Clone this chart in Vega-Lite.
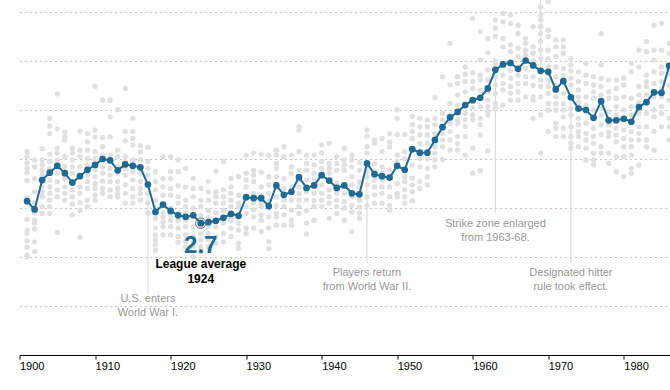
{
  "$schema": "https://vega.github.io/schema/vega-lite/v6.json",
  "width": 650.5,
  "height": 355,
  "autosize": "none",
  "padding": {"left": 19.5, "top": 0, "right": 0, "bottom": 35},
  "background": "white",
  "config": {"view": {"stroke": null}, "font": "Liberation Sans"},
  "datasets": {
    "teams": [
      {"yr":1901,"v":[4.15,4.05,3.92,3.81,3.72,3.56,3.2,2.77,2.55,2.48,2.33,2.2,2.04,2.0]},
      {"yr":1902,"v":[3.98,3.84,3.6,3.33,3.1,2.9,2.75,2.69,2.57,2.31,2.11]},
      {"yr":1903,"v":[4.21,3.98,3.88,3.77,3.67,3.57,3.43,3.33,3.23,3.03,2.89]},
      {"yr":1904,"v":[4.83,4.67,4.52,4.1,3.95,3.81,3.72,3.57,3.43,3.3,3.16,3.03,2.89]},
      {"yr":1905,"v":[5.33,4.61,4.22,4.12,3.98,3.86,3.71,3.54,3.37,3.23,2.5]},
      {"yr":1906,"v":[4.55,4.45,4.39,4.05,3.85,3.74,3.6,3.43,3.3,3.16]},
      {"yr":1907,"v":[4.22,4.12,3.98,3.84,3.71,3.52,3.37,3.23,3.08,2.86]},
      {"yr":1908,"v":[4.57,4.18,4.05,3.84,3.64,3.43,3.3,3.11,2.95,2.4]},
      {"yr":1909,"v":[4.52,4.35,4.18,4.01,3.88,3.67,3.54,3.4,3.16,3.03]},
      {"yr":1910,"v":[5.48,4.59,4.45,4.15,4.01,3.77,3.64,3.5,3.4,3.26,3.16]},
      {"yr":1911,"v":[5.2,4.44,4.25,4.08,4.0,3.84,3.71,3.55,3.4,3.3]},
      {"yr":1912,"v":[5.2,4.86,4.45,4.08,3.98,3.81,3.67,3.54,3.37,3.23]},
      {"yr":1913,"v":[5.01,4.18,4.05,3.84,3.71,3.54,3.4,3.3,3.23]},
      {"yr":1914,"v":[5.44,4.56,4.37,4.05,3.95,3.8,3.67,3.47,3.3,3.1]},
      {"yr":1915,"v":[4.83,4.56,4.42,4.29,3.98,3.86,3.74,3.57,3.4,3.23,3.1]},
      {"yr":1916,"v":[4.27,4.15,3.98,3.83,3.71,3.54,3.4,3.3,3.16]},
      {"yr":1917,"v":[4.24,3.95,3.81,3.67,3.48,3.3,3.1,2.9]},
      {"yr":1918,"v":[3.74,3.54,3.37,3.16,3.0,2.79,2.59,2.45,2.35,2.25,2.14]},
      {"yr":1919,"v":[4.05,3.6,3.43,3.26,3.07,2.9,2.82,2.72,2.62,2.45]},
      {"yr":1920,"v":[4.05,3.74,3.6,3.4,3.26,3.0,2.85,2.75,2.62,2.45]},
      {"yr":1921,"v":[3.98,3.74,3.45,3.23,3.1,2.9,2.75,2.59,2.42,2.3]},
      {"yr":1922,"v":[3.81,3.43,3.16,3.03,2.9,2.75,2.62,2.45,2.31,2.2]},
      {"yr":1923,"v":[3.6,3.4,3.23,3.0,2.85,2.62,2.42,2.31,2.21,2.01]},
      {"yr":1924,"v":[3.4,3.16,3.03,2.85,2.75,2.62,2.48,2.35,2.21,2.1]},
      {"yr":1925,"v":[3.54,3.33,3.16,2.95,2.8,2.62,2.48,2.35,2.21]},
      {"yr":1926,"v":[3.75,3.33,3.23,3.1,2.9,2.75,2.62,2.42,2.28]},
      {"yr":1927,"v":[3.95,3.37,3.23,3.1,2.95,2.8,2.69,2.48,2.31]},
      {"yr":1928,"v":[3.6,3.43,3.3,3.16,3.03,2.88,2.75,2.59,2.42]},
      {"yr":1929,"v":[3.64,3.26,3.1,3.03,2.84,2.69,2.55,2.28,2.18]},
      {"yr":1930,"v":[4.08,3.71,3.57,3.43,3.22,3.03,2.89,2.59,2.48]},
      {"yr":1931,"v":[4.12,3.77,3.67,3.54,3.3,3.1,2.96,2.82,2.59]},
      {"yr":1932,"v":[4.1,3.73,3.43,3.25,3.1,3.03,2.86,2.75,2.52]},
      {"yr":1933,"v":[4.08,3.64,3.47,3.3,3.15,3.0,2.82,2.59,2.31,2.17]},
      {"yr":1934,"v":[4.18,4.08,3.91,3.81,3.64,3.46,3.23,3.05,2.89,2.82,2.65]},
      {"yr":1935,"v":[4.25,4.05,3.6,3.4,3.27,3.16,3.03,2.86,2.65]},
      {"yr":1936,"v":[4.08,3.84,3.71,3.43,3.33,3.16,2.96,2.75,2.65]},
      {"yr":1937,"v":[4.66,4.59,4.15,3.77,3.63,3.57,3.43,3.3,3.16,3.03,2.89]},
      {"yr":1938,"v":[4.08,3.91,3.77,3.57,3.41,3.33,3.16,2.95,2.69,2.47]},
      {"yr":1939,"v":[4.08,3.88,3.71,3.55,3.46,3.3,3.15,3.03,2.75]},
      {"yr":1940,"v":[4.29,4.12,3.95,3.81,3.67,3.47,3.3,3.16,3.03]},
      {"yr":1941,"v":[4.32,3.91,3.81,3.71,3.56,3.37,3.23,3.1,2.79]},
      {"yr":1942,"v":[4.05,3.91,3.77,3.5,3.41,3.3,3.16,3.03,2.89]},
      {"yr":1943,"v":[4.22,3.98,3.88,3.77,3.46,3.3,3.13,3.0,2.75]},
      {"yr":1944,"v":[4.08,3.98,3.84,3.64,3.47,3.3,3.23,3.05,2.92,2.52]},
      {"yr":1945,"v":[3.93,3.77,3.54,3.43,3.28,3.16,3.02,2.9,2.79]},
      {"yr":1946,"v":[4.59,4.47,4.25,4.12,3.91,3.75,3.64,3.47,3.23,3.05]},
      {"yr":1947,"v":[4.39,4.32,3.9,3.74,3.69,3.57,3.43,3.27,3.1]},
      {"yr":1948,"v":[4.42,4.15,3.84,3.71,3.65,3.57,3.43,3.3,3.1]},
      {"yr":1949,"v":[4.52,4.35,4.25,3.78,3.62,3.43,3.23,3.05,2.95]},
      {"yr":1950,"v":[5.0,4.83,4.5,4.08,3.95,3.86,3.84,3.5,3.3,3.23]},
      {"yr":1951,"v":[4.5,4.15,4.01,3.78,3.64,3.54,3.37,3.23,3.1]},
      {"yr":1952,"v":[4.87,4.7,4.56,4.42,4.2,3.88,3.61,3.47,3.33,3.15]},
      {"yr":1953,"v":[4.83,4.66,4.49,4.32,4.13,4.01,3.84,3.54,3.4]},
      {"yr":1954,"v":[4.8,4.66,4.49,4.32,4.13,4.0,3.81,3.64,3.47]},
      {"yr":1955,"v":[5.25,4.83,4.7,4.52,4.39,4.25,4.12,3.98,3.84]},
      {"yr":1956,"v":[5.68,4.93,4.8,4.65,4.52,4.39,4.25,3.99]},
      {"yr":1957,"v":[6.36,5.51,5.13,4.9,4.85,4.73,4.56,4.39,4.18]},
      {"yr":1958,"v":[5.68,5.54,5.31,5.1,4.96,4.8,4.73,4.46,4.32,4.18]},
      {"yr":1959,"v":[5.88,5.73,5.58,5.37,5.1,4.93,4.8,4.66,4.46,4.08]},
      {"yr":1960,"v":[6.87,5.76,5.58,5.44,5.2,5.05,4.9,4.8,4.22,3.71]},
      {"yr":1961,"v":[6.6,6.02,5.71,5.61,5.4,5.25,5.07,4.83,4.7,4.49,3.76]},
      {"yr":1962,"v":[6.46,6.17,5.82,5.61,5.44,5.37,5.2,5.07,4.97,4.9,4.17]},
      {"yr":1963,"v":[6.84,6.67,6.5,6.0,5.92,5.82,5.68,5.51,5.34,5.13,5.03]},
      {"yr":1964,"v":[6.97,6.8,6.46,6.29,5.93,5.71,5.54,5.41,5.1]},
      {"yr":1965,"v":[6.94,6.76,6.33,6.19,5.96,5.8,5.65,5.48,5.34,5.2]},
      {"yr":1966,"v":[6.73,6.56,6.26,6.09,5.84,5.71,5.54,5.37,5.2]},
      {"yr":1967,"v":[6.46,6.36,6.22,6.12,6.01,5.85,5.68,5.54,5.27]},
      {"yr":1968,"v":[6.7,6.29,6.16,6.0,5.91,5.68,5.5,5.27,5.2,4.83]},
      {"yr":1969,"v":[7.1,6.94,6.84,6.7,6.56,6.4,6.22,6.05,5.8,5.61,5.48,5.27,4.9,4.12]},
      {"yr":1970,"v":[7.21,6.63,6.5,6.22,6.05,5.88,5.78,5.6,5.48,5.34,5.13,5.0,4.56]},
      {"yr":1971,"v":[6.43,6.29,6.09,5.88,5.68,5.5,5.42,5.27,5.13,5.0,4.73,4.63,4.46]},
      {"yr":1972,"v":[6.43,6.29,6.16,5.85,5.71,5.59,5.34,5.13,5.0,4.86,4.63,4.46]},
      {"yr":1973,"v":[6.05,5.92,5.8,5.65,5.51,5.26,5.03,4.9,4.66,4.46,4.32,4.22]},
      {"yr":1974,"v":[5.78,5.58,5.41,5.27,5.15,5.03,4.83,4.7,4.56,4.46,4.25]},
      {"yr":1975,"v":[5.95,5.71,5.54,5.27,5.1,5.0,4.73,4.52,4.39,4.22,3.98]},
      {"yr":1976,"v":[5.68,5.51,5.37,5.24,5.0,4.84,4.63,4.46,4.32,4.12,3.98,3.88]},
      {"yr":1977,"v":[6.56,5.92,5.65,5.48,5.31,5.18,5.03,4.9,4.7,4.5,4.25,4.12]},
      {"yr":1978,"v":[5.61,5.37,5.24,4.97,4.83,4.79,4.7,4.55,4.46,4.12,3.91]},
      {"yr":1979,"v":[5.61,5.44,5.24,5.07,4.9,4.79,4.63,4.49,4.35,4.05,3.74]},
      {"yr":1980,"v":[5.65,5.51,5.27,5.0,4.82,4.59,4.42,4.25,4.05,3.64]},
      {"yr":1981,"v":[5.95,5.78,5.24,5.07,4.9,4.76,4.56,4.39,4.25,4.08,3.81,3.71]},
      {"yr":1982,"v":[6.22,5.88,5.48,5.31,5.15,5.06,4.93,4.66,4.52,4.39,3.88]},
      {"yr":1983,"v":[6.4,6.19,5.71,5.58,5.48,5.31,5.16,4.93,4.66,4.39,4.25]},
      {"yr":1984,"v":[6.73,6.22,6.02,5.78,5.54,5.36,5.27,5.0,4.86,4.56,4.18]},
      {"yr":1985,"v":[6.77,6.22,5.88,5.75,5.58,5.44,5.27,5.07,4.93,4.66]},
      {"yr":1986,"v":[6.36,6.16,5.9,5.75,5.5,5.2,4.83,4.66,4.39]}
    ],
    "avg": [
      {"yr":1901,"v":3.14},{"yr":1902,"v":2.97},{"yr":1903,"v":3.57},{"yr":1904,"v":3.72},
      {"yr":1905,"v":3.86},{"yr":1906,"v":3.71},{"yr":1907,"v":3.52},{"yr":1908,"v":3.65},
      {"yr":1909,"v":3.78},{"yr":1910,"v":3.88},{"yr":1911,"v":4.0},{"yr":1912,"v":3.97},
      {"yr":1913,"v":3.77},{"yr":1914,"v":3.89},{"yr":1915,"v":3.86},{"yr":1916,"v":3.83},
      {"yr":1917,"v":3.48},{"yr":1918,"v":2.92},{"yr":1919,"v":3.07},{"yr":1920,"v":2.94},
      {"yr":1921,"v":2.85},{"yr":1922,"v":2.82},{"yr":1923,"v":2.85},{"yr":1924,"v":2.69},
      {"yr":1925,"v":2.71},{"yr":1926,"v":2.74},{"yr":1927,"v":2.8},{"yr":1928,"v":2.88},
      {"yr":1929,"v":2.84},{"yr":1930,"v":3.22},{"yr":1931,"v":3.2},{"yr":1932,"v":3.2},
      {"yr":1933,"v":3.04},{"yr":1934,"v":3.46},{"yr":1935,"v":3.27},{"yr":1936,"v":3.33},
      {"yr":1937,"v":3.63},{"yr":1938,"v":3.41},{"yr":1939,"v":3.46},{"yr":1940,"v":3.67},
      {"yr":1941,"v":3.56},{"yr":1942,"v":3.41},{"yr":1943,"v":3.46},{"yr":1944,"v":3.3},
      {"yr":1945,"v":3.28},{"yr":1946,"v":3.91},{"yr":1947,"v":3.69},{"yr":1948,"v":3.65},
      {"yr":1949,"v":3.62},{"yr":1950,"v":3.86},{"yr":1951,"v":3.78},{"yr":1952,"v":4.2},
      {"yr":1953,"v":4.13},{"yr":1954,"v":4.13},{"yr":1955,"v":4.39},{"yr":1956,"v":4.65},
      {"yr":1957,"v":4.85},{"yr":1958,"v":4.96},{"yr":1959,"v":5.1},{"yr":1960,"v":5.2},
      {"yr":1961,"v":5.25},{"yr":1962,"v":5.44},{"yr":1963,"v":5.82},{"yr":1964,"v":5.93},
      {"yr":1965,"v":5.96},{"yr":1966,"v":5.84},{"yr":1967,"v":6.01},{"yr":1968,"v":5.91},
      {"yr":1969,"v":5.8},{"yr":1970,"v":5.78},{"yr":1971,"v":5.42},{"yr":1972,"v":5.59},
      {"yr":1973,"v":5.26},{"yr":1974,"v":5.03},{"yr":1975,"v":5.0},{"yr":1976,"v":4.84},
      {"yr":1977,"v":5.18},{"yr":1978,"v":4.79},{"yr":1979,"v":4.79},{"yr":1980,"v":4.82},
      {"yr":1981,"v":4.76},{"yr":1982,"v":5.06},{"yr":1983,"v":5.16},{"yr":1984,"v":5.36},
      {"yr":1985,"v":5.35},{"yr":1986,"v":5.9}
    ],
    "rules": [
      {"yr":1917,"top":3.4,"bottom":1.27},
      {"yr":1946,"top":3.85,"bottom":1.88},
      {"yr":1963,"top":5.78,"bottom":2.88},
      {"yr":1969,"top":7.245,"bottom":5.8},
      {"yr":1973,"top":5.2,"bottom":1.88}
    ],
    "notes": [
      {"yr":1917,"v":1.14,"t":"U.S. enters"},
      {"yr":1917,"v":0.86,"t":"World War I."},
      {"yr":1946,"v":1.67,"t":"Players return"},
      {"yr":1946,"v":1.39,"t":"from World War II."},
      {"yr":1963,"v":2.67,"t":"Strike zone enlarged"},
      {"yr":1963,"v":2.39,"t":"from 1963-68."},
      {"yr":1973,"v":1.67,"t":"Designated hitter"},
      {"yr":1973,"v":1.39,"t":"rule took effect."}
    ],
    "hl": [
      {"yr":1924,"v":2.69,"big":"2.7","l1":"League average","l2":"1924","y1":2.22,"y2":1.86,"y3":1.55}
    ]
  },
  "encoding": {
    "x": {"field":"yr","type":"quantitative","scale":{"domain":[1900,1986.12],"nice":false,"zero":false},
      "axis":{"orient":"bottom","values":[1900,1910,1920,1930,1940,1950,1960,1970,1980],"format":"d","title":null,"grid":false,
        "labelAlign":"left","labelFontSize":11,"labelColor":"#000","labelFont":"Liberation Sans","domainColor":"#000","domainWidth":1,
        "tickColor":"#000","tickSize":4,"labelPadding":1,"labelFlush":false}}
  },
  "layer": [
    {
      "data": {"name":"rules"},
      "mark": {"type":"rule","color":"#d6d6d6","strokeWidth":1},
      "encoding": {
        "y": {"field":"top","type":"quantitative","scale":{"domain":[0,7.245],"nice":false,"zero":true},
          "axis":{"orient":"left","values":[1,2,3,4,5,6,7],"grid":true,"gridDash":[2,3],"gridColor":"#c4c4c4","gridWidth":1,
            "labels":false,"ticks":false,"domain":false,"title":null}},
        "y2": {"field":"bottom"}
      }
    },
    {
      "data": {"name":"teams"},
      "transform": [{"flatten":["v"]}],
      "mark": {"type":"circle","color":"#e0e0e0","opacity":1,"size":28},
      "encoding": {"y": {"field":"v","type":"quantitative"}}
    },
    {
      "data": {"name":"avg"},
      "mark": {"type":"line","color":"#1f6a94","strokeWidth":2},
      "encoding": {"y": {"field":"v","type":"quantitative"}}
    },
    {
      "data": {"name":"avg"},
      "mark": {"type":"circle","color":"#1f6a94","opacity":1,"size":45},
      "encoding": {"y": {"field":"v","type":"quantitative"}}
    },
    {
      "data": {"name":"hl"},
      "mark": {"type":"point","filled":false,"stroke":"#777","strokeWidth":1,"size":110,"opacity":1},
      "encoding": {"y": {"field":"v","type":"quantitative"}}
    },
    {
      "data": {"name":"hl"},
      "mark": {"type":"text","color":"#1f6a94","fontSize":24,"fontWeight":"bold","font":"Liberation Sans","baseline":"middle","align":"center"},
      "encoding": {"y": {"field":"y1","type":"quantitative"},"text":{"field":"big"}}
    },
    {
      "data": {"name":"hl"},
      "mark": {"type":"text","color":"#000","fontSize":12,"fontWeight":"bold","font":"Liberation Sans","baseline":"middle","align":"center"},
      "encoding": {"y": {"field":"y2","type":"quantitative"},"text":{"field":"l1"}}
    },
    {
      "data": {"name":"hl"},
      "mark": {"type":"text","color":"#000","fontSize":12,"fontWeight":"bold","font":"Liberation Sans","baseline":"middle","align":"center"},
      "encoding": {"y": {"field":"y3","type":"quantitative"},"text":{"field":"l2"}}
    },
    {
      "data": {"name":"notes"},
      "mark": {"type":"text","color":"#999999","fontSize":11,"font":"Liberation Sans","baseline":"middle","align":"center"},
      "encoding": {"y": {"field":"v","type":"quantitative"},"text":{"field":"t"}}
    }
  ]
}
